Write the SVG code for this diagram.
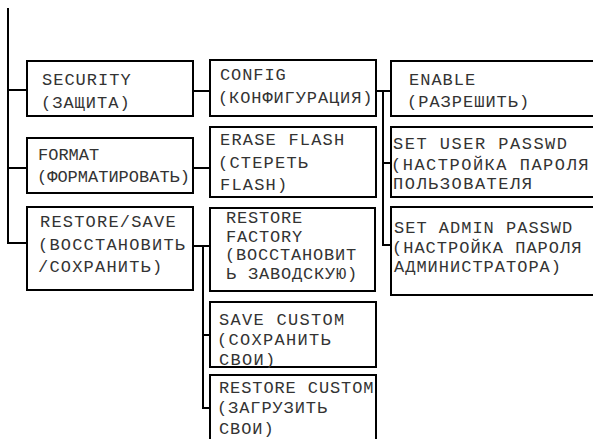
<svg xmlns="http://www.w3.org/2000/svg" width="593" height="439" viewBox="0 0 593 439">
<style>
.box{fill:#fff;stroke:#000;stroke-width:2}
.ln{fill:none;stroke:#000;stroke-width:2}
text{font-family:"Liberation Mono","DejaVu Sans Mono",monospace;font-size:17px;fill:#333}
</style>
<rect width="593" height="439" fill="#fff"/>
<g id="connectors" class="ln">
<path d="M8 8V243H27M8 90H27M8 168H27"/>
<path d="M193 91H210M193 168H210"/>
<path d="M193 246H209M203 246V408H210M203 335H210"/>
<path d="M376 91H391M383 91V245H391M383 163H391"/>
</g>
<g id="security"><rect class="box" x="27" y="61" width="166" height="55"/>
<text letter-spacing="1"><tspan x="42" y="85">SECURITY</tspan><tspan x="41" y="108">(ЗАЩИТА)</tspan></text></g>
<g id="format"><rect class="box" x="27" y="138" width="166" height="55"/>
<text letter-spacing="0"><tspan x="38" y="160">FORMAT</tspan><tspan x="37" y="182">(ФОРМАТИРОВАТЬ)</tspan></text></g>
<g id="restoresave"><rect class="box" x="27" y="207" width="166" height="83"/>
<text letter-spacing="1.2"><tspan x="40" y="227">RESTORE/SAVE</tspan><tspan x="38" y="250">(ВОССТАНОВИТЬ</tspan><tspan x="38" y="272">/СОХРАНИТЬ)</tspan></text></g>
<g id="config"><rect class="box" x="210" y="60" width="166" height="56"/>
<text letter-spacing="0.9"><tspan x="220" y="80">CONFIG</tspan><tspan x="218" y="103">(КОНФИГУРАЦИЯ)</tspan></text></g>
<g id="erase"><rect class="box" x="210" y="127" width="166" height="70"/>
<text letter-spacing="1.2"><tspan x="220" y="145">ERASE FLASH</tspan><tspan x="218" y="168">(СТЕРЕТЬ</tspan><tspan x="220" y="190">FLASH)</tspan></text></g>
<g id="factory"><rect class="box" x="210" y="208" width="165" height="83"/>
<text letter-spacing="0.8"><tspan x="226" y="223">RESTORE</tspan><tspan x="226" y="242">FACTORY</tspan><tspan x="225" y="260">(ВОССТАНОВИТ</tspan><tspan x="226" y="279">Ь ЗАВОДСКУЮ)</tspan></text></g>
<g id="savecustom"><rect class="box" x="210" y="302" width="166" height="65"/>
<text letter-spacing="1.3"><tspan x="219" y="325">SAVE CUSTOM</tspan><tspan x="217" y="345">(СОХРАНИТЬ</tspan><tspan x="219" y="365">СВОИ)</tspan></text></g>
<g id="restorecustom"><rect class="box" x="210" y="375" width="166" height="80"/>
<text letter-spacing="0.9"><tspan x="219" y="393">RESTORE CUSTOM</tspan><tspan x="217" y="413">(ЗАГРУЗИТЬ</tspan><tspan x="219" y="434">СВОИ)</tspan></text></g>
<g id="enable"><rect class="box" x="391" y="61" width="220" height="55"/>
<text letter-spacing="1"><tspan x="409" y="85">ENABLE</tspan><tspan x="407" y="107">(РАЗРЕШИТЬ)</tspan></text></g>
<g id="userpasswd"><rect class="box" x="391" y="127" width="220" height="70"/>
<text letter-spacing="1.5"><tspan x="393" y="149">SET USER PASSWD</tspan><tspan x="391" y="170">(НАСТРОЙКА ПАРОЛЯ</tspan><tspan x="393" y="189">ПОЛЬЗОВАТЕЛЯ</tspan></text></g>
<g id="adminpasswd"><rect class="box" x="391" y="207" width="220" height="88"/>
<text letter-spacing="1"><tspan x="394" y="233">SET ADMIN PASSWD</tspan><tspan x="392" y="253">(НАСТРОЙКА ПАРОЛЯ</tspan><tspan x="394" y="272">АДМИНИСТРАТОРА)</tspan></text></g>
</svg>
